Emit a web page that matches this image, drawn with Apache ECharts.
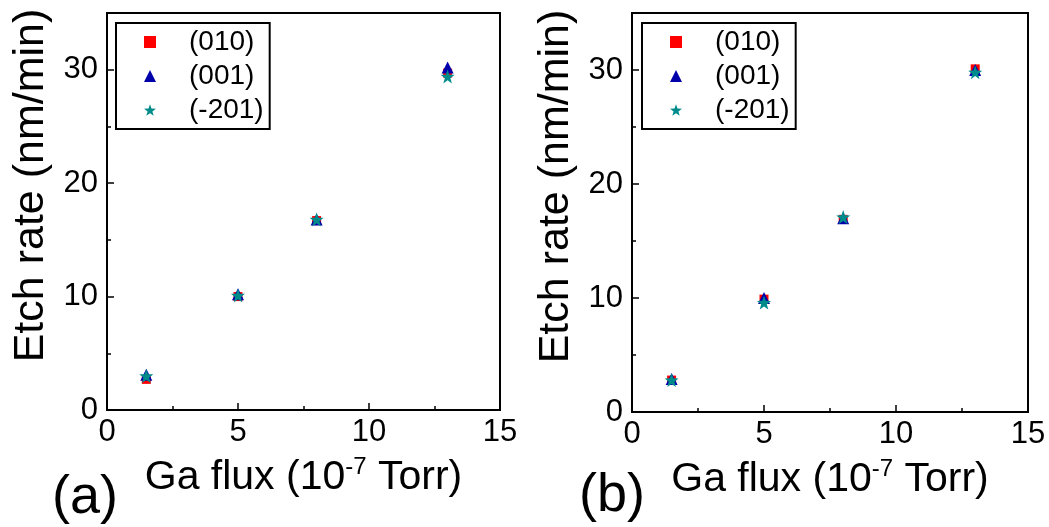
<!DOCTYPE html>
<html>
<head>
<meta charset="utf-8">
<script src="https://cdn.jsdelivr.net/npm/echarts@6/dist/echarts.min.js"></script>
<style>
html,body{margin:0;padding:0;background:#fff;}
#c{width:1049px;height:527px;}
</style>
</head>
<body>
<div id="c"></div>
<script>
// Data
const gaFlux = [1.5, 5, 8, 13];
const seriesNames = ['(010)', '(001)', '(-201)'];
// panel (a)
const a010 = [2.7, 10.0, 16.7, 29.7];
const a001 = [3.1, 10.2, 16.8, 30.2];
const a201 = [3.0, 10.1, 16.8, 29.4];
// panel (b)
const b010 = [2.8, 9.9, 16.9, 30.1];
const b001 = [2.9, 10.0, 17.0, 30.0];
const b201 = [2.8, 9.6, 17.1, 29.8];
const xTicks = [0, 5, 10, 15];
const yTicks = [0, 10, 20, 30];
const panelLabels = ['(a)', '(b)'];

const FONT = '"Liberation Sans", Arial, Helvetica, sans-serif';
const STAR = 'path://M0,-10 L2.35,-3.24 L9.51,-3.09 L3.8,1.24 L5.88,8.09 L0,4 L-5.88,8.09 L-3.8,1.24 L-9.51,-3.09 L-2.35,-3.24 Z';
const colors = ['#ff0000', '#0000aa', '#008b8b'];
const symbols = ['rect', 'triangle', STAR];
const sizes = [9, 12, 14];

const grids = [
  {left: 107, top: 13, width: 393, height: 397},
  {left: 632, top: 13, width: 396, height: 399}
];

function xAxis(gi) {
  return {
    type: 'value', gridIndex: gi, min: 0, max: 15, interval: 5,
    name: '{m|Ga flux (10}{sup|-7}{m| Torr)}',
    nameLocation: 'middle', nameGap: 45,
    nameTextStyle: {
      rich: {
        m: {fontSize: 41, fontFamily: FONT, color: '#000', lineHeight: 45},
        sup: {fontSize: 24, fontFamily: FONT, color: '#000', verticalAlign: 'top', lineHeight: 45, padding: [0, 0, 16, 0]}
      }
    },
    axisLine: {show: true, lineStyle: {color: '#000', width: 2}},
    axisTick: {show: true, inside: true, length: 7, lineStyle: {color: '#000', width: 1.5}},
    minorTick: {show: true, splitNumber: 2, length: 4, lineStyle: {color: '#000', width: 1.5}},
    splitLine: {show: false}, minorSplitLine: {show: false},
    axisLabel: {fontSize: 31, fontFamily: FONT, color: '#000', margin: 7,
      customValues: xTicks}
  };
}
function yAxisMain(gi) {
  return {
    type: 'value', gridIndex: gi, position: 'left', min: 0, max: 35, interval: 10,
    name: 'Etch rate (nm/min)', nameLocation: 'middle', nameGap: 54,
    nameTextStyle: {fontSize: 43, fontFamily: FONT, color: '#000', padding: [0, 0, 0, 52]},
    axisLine: {show: true, lineStyle: {color: '#000', width: 2}},
    axisTick: {show: true, inside: true, length: 7, lineStyle: {color: '#000', width: 1.5}},
    splitLine: {show: false},
    axisLabel: {fontSize: 31, fontFamily: FONT, color: '#000', margin: 9,
      customValues: yTicks}
  };
}
function yAxisMinor(gi) {
  return {
    type: 'value', gridIndex: gi, position: 'left', min: 0, max: 35, interval: 5,
    axisLine: {show: false},
    axisTick: {show: true, inside: true, length: 4, lineStyle: {color: '#000', width: 1.5}},
    splitLine: {show: false},
    axisLabel: {show: false}
  };
}
function legend(left) {
  return {
    left: left, top: 23, orient: 'vertical',
    padding: [5, 6, 5, 28],
    borderColor: '#000', borderWidth: 2,
    itemWidth: 12, itemHeight: 12, itemGap: 6,
    selectedMode: false,
    textStyle: {fontSize: 28, fontFamily: FONT, color: '#000', padding: [0, 0, 0, 28]},
    data: seriesNames.map((n, i) => ({name: n, icon: symbols[i], itemStyle: {color: colors[i]}}))
  };
}
function scatter(name, idx, vals, gi) {
  return {
    type: 'scatter', name: name,
    xAxisIndex: gi, yAxisIndex: gi * 2,
    symbol: symbols[idx], symbolSize: sizes[idx],
    itemStyle: {color: colors[idx], opacity: 1},
    data: gaFlux.map((x, i) => [x, vals[i]]),
    z: 3 + idx
  };
}

const chart = echarts.init(document.getElementById('c'), null, {renderer: 'canvas'});
chart.setOption({
  backgroundColor: '#fff',
  animation: false,
  grid: grids.map(g => Object.assign({show: true, borderColor: '#000', borderWidth: 2, backgroundColor: 'transparent'}, g)),
  xAxis: [xAxis(0), xAxis(1)],
  yAxis: [yAxisMain(0), yAxisMinor(0), yAxisMain(1), yAxisMinor(1)],
  legend: [legend(116), legend(642)],
  series: [
    scatter(seriesNames[0], 0, a010, 0),
    scatter(seriesNames[1], 1, a001, 0),
    scatter(seriesNames[2], 2, a201, 0),
    scatter(seriesNames[0], 0, b010, 1),
    scatter(seriesNames[1], 1, b001, 1),
    scatter(seriesNames[2], 2, b201, 1)
  ],
  graphic: [
    {type: 'text', left: 52, top: 471, style: {text: panelLabels[0], fontSize: 54, fontFamily: FONT, fill: '#000'}},
    {type: 'text', left: 579, top: 469, style: {text: panelLabels[1], fontSize: 54, fontFamily: FONT, fill: '#000'}}
  ]
});
</script>
</body>
</html>
